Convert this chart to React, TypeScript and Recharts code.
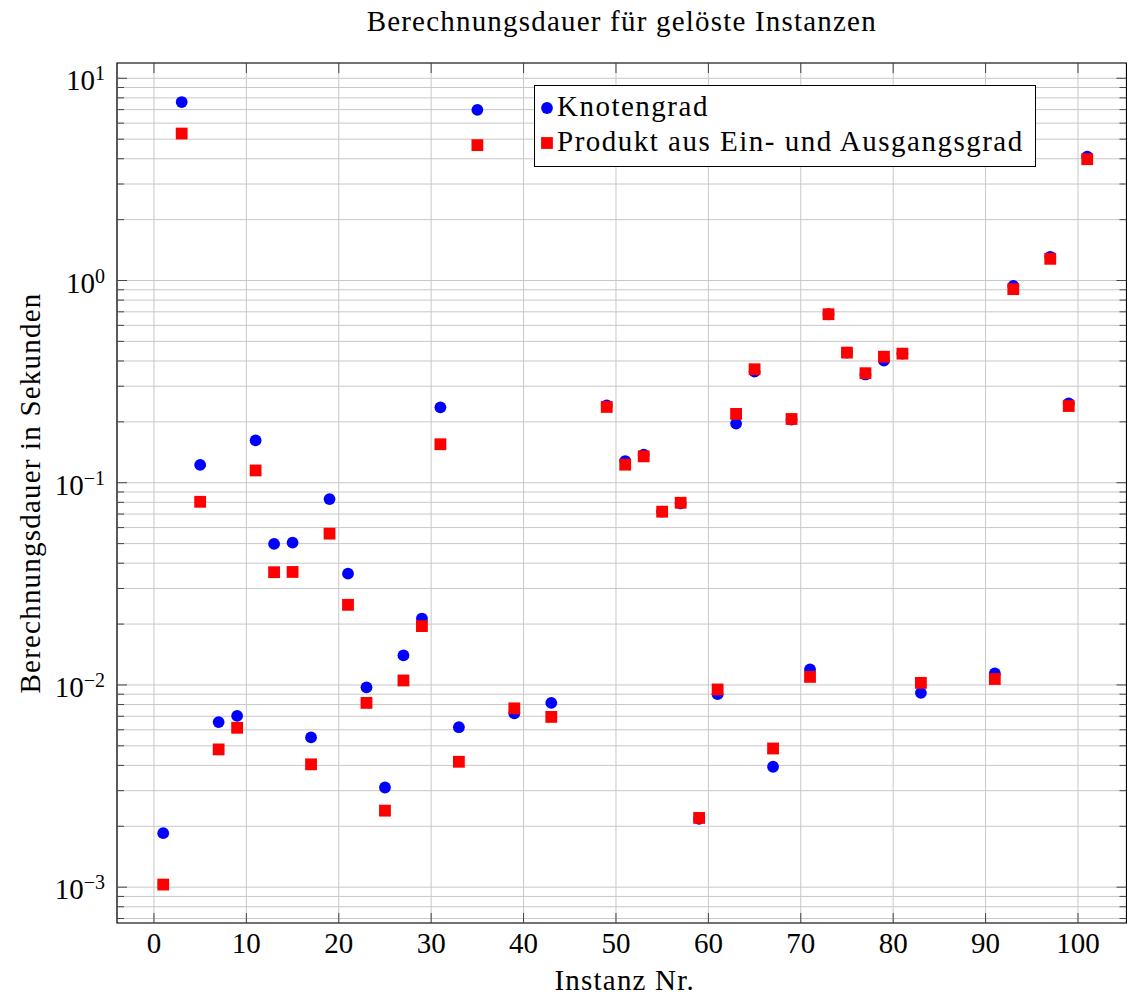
import { ScatterChart, Scatter, XAxis, YAxis, CartesianGrid, Legend, ReferenceArea } from 'recharts';

const INSTANZEN = [
  1, 3, 5, 7, 9, 11, 13, 15, 17, 19, 21, 23, 25, 27, 29, 31, 33, 35, 39, 43,
  49, 51, 53, 55, 57, 59, 61, 63, 65, 67, 69, 71, 73, 75, 77, 79, 81, 83, 91, 93,
  97, 99, 101
];

const KNOTENGRAD = [
  0.00185, 7.63, 0.1225, 0.00655, 0.00703, 0.162, 0.0498, 0.0506, 0.0055, 0.083,
  0.0355, 0.00973, 0.00311, 0.014, 0.0213, 0.236, 0.00618, 6.98, 0.00723, 0.00815,
  0.241, 0.128, 0.1376, 0.0719, 0.079, 0.00218, 0.009, 0.196, 0.354, 0.00394,
  0.205, 0.01194, 0.681, 0.44, 0.343, 0.402, 0.435, 0.00914, 0.0114, 0.94,
  1.31, 0.2467, 4.1
];

const PRODUKT = [
  0.00103, 5.33, 0.0805, 0.0048, 0.00614, 0.115, 0.0361, 0.0362, 0.00405, 0.056,
  0.0249, 0.00815, 0.00239, 0.01052, 0.01954, 0.155, 0.00417, 4.67, 0.00766, 0.00695,
  0.237, 0.1228, 0.135, 0.0719, 0.0796, 0.0022, 0.0095, 0.219, 0.364, 0.00485,
  0.2066, 0.01096, 0.681, 0.44, 0.348, 0.42, 0.4348, 0.01024, 0.0107, 0.906,
  1.28, 0.2395, 3.98
];

const X_TICKS = [0, 10, 20, 30, 40, 50, 60, 70, 80, 90, 100];
const Y_MAJOR = [0.001, 0.01, 0.1, 1, 10];
const Y_EXPONENTS = ['−3', '−2', '−1', '0', '1'];
const Y_MINOR = [
  0.0007, 0.0008, 0.0009,
  0.002, 0.003, 0.004, 0.005, 0.006, 0.007, 0.008, 0.009,
  0.02, 0.03, 0.04, 0.05, 0.06, 0.07, 0.08, 0.09,
  0.2, 0.3, 0.4, 0.5, 0.6, 0.7, 0.8, 0.9,
  2, 3, 4, 5, 6, 7, 8, 9
];
const Y_TICKS = [...Y_MAJOR, ...Y_MINOR].sort((a, b) => a - b);

const X_DOMAIN = [-4, 105.25];
const Y_DOMAIN = [0.000665, 11.9];

const FONT = '"Liberation Serif", "Times New Roman", serif';
const FS = 29;
const LS = 1.2;
const PLOT_W = 1009.5;
const PLOT_H = 860;
const TICK_COLOR = '#444';
const GRID_COLOR = '#c8c8c8';

const knotenData = INSTANZEN.map((x, i) => ({ x, y: KNOTENGRAD[i] }));
const produktData = INSTANZEN.map((x, i) => ({ x, y: PRODUKT[i] }));

const BlueDot = (props: any) => (
  <circle cx={props.cx} cy={props.cy} r={5.9} fill="#0000ff" />
);

const RedSquare = (props: any) => (
  <rect x={props.cx - 5.9} y={props.cy - 5.9} width={11.8} height={11.8} fill="#ff0000" />
);

const XTick = ({ x, y, payload }: any) => (
  <g>
    <line x1={x} y1={y} x2={x} y2={y - 10} stroke={TICK_COLOR} />
    <line x1={x} y1={y - PLOT_H} x2={x} y2={y - PLOT_H + 10} stroke={TICK_COLOR} />
    <text x={x} y={y + 30} textAnchor="middle" fontFamily={FONT} fontSize={FS} fill="#000">
      {payload.value}
    </text>
  </g>
);

const YTick = ({ x, y, payload }: any) => {
  const idx = Y_MAJOR.indexOf(payload.value);
  const len = idx >= 0 ? 10 : 7;
  return (
    <g>
      <line x1={x} y1={y} x2={x + len} y2={y} stroke={TICK_COLOR} />
      <line x1={x + PLOT_W} y1={y} x2={x + PLOT_W - len} y2={y} stroke={TICK_COLOR} />
      {idx >= 0 && (
        <text x={x - 12} y={y + 12} textAnchor="end" fontFamily={FONT} fontSize={FS} fill="#000">
          10
          <tspan dy={-10} fontSize={20}>{Y_EXPONENTS[idx]}</tspan>
        </text>
      )}
    </g>
  );
};

const LegendBox = ({ payload }: any) => (
  <div
    style={{
      boxSizing: 'border-box',
      width: 502,
      height: 82,
      border: '1.2px solid #000',
      background: '#fff',
      paddingTop: 3,
      paddingLeft: 6,
      fontFamily: FONT,
      fontSize: FS,
      letterSpacing: 1.5,
      color: '#000'
    }}
  >
    {(payload || []).map((entry: any) => (
      <div key={entry.value} style={{ display: 'flex', alignItems: 'center', height: 35, lineHeight: '35px' }}>
        <svg width={12} height={12} style={{ marginTop: 3, marginRight: 4, flex: 'none' }}>
          {entry.type === 'circle' ? (
            <circle cx={6} cy={6} r={5.9} fill={entry.color} />
          ) : (
            <rect x={0.1} y={0.1} width={11.8} height={11.8} fill={entry.color} />
          )}
        </svg>
        <span>{entry.value}</span>
      </div>
    ))}
  </div>
);

export default function App() {
  return (
    <div style={{ position: 'absolute', left: 0, top: 0, width: 1127, height: 997, background: '#fff' }}>
      <div
        style={{
          position: 'absolute',
          left: 117,
          top: 5,
          width: PLOT_W,
          textAlign: 'center',
          fontFamily: FONT,
          fontSize: FS,
          letterSpacing: LS,
          lineHeight: '33px'
        }}
      >
        Berechnungsdauer für gelöste Instanzen
      </div>
      <ScatterChart width={1127} height={997} margin={{ top: 63, right: 0.5, bottom: 0, left: 0 }}>
        <CartesianGrid stroke={GRID_COLOR} />
        <XAxis
          type="number"
          dataKey="x"
          domain={X_DOMAIN}
          ticks={X_TICKS}
          interval={0}
          allowDataOverflow
          height={74}
          tickSize={0}
          tickMargin={0}
          tickLine={false}
          axisLine={false}
          tick={<XTick />}
          label={{
            content: ({ viewBox }: any) => (
              <text
                x={viewBox.x + viewBox.width / 2 + 3}
                y={viewBox.y + viewBox.height - 7}
                textAnchor="middle"
                fontFamily={FONT}
                fontSize={FS}
                letterSpacing={LS}
                fill="#000"
              >
                Instanz Nr.
              </text>
            )
          }}
        />
        <YAxis
          type="number"
          dataKey="y"
          scale="log"
          domain={Y_DOMAIN}
          ticks={Y_TICKS}
          interval={0}
          allowDataOverflow
          width={117}
          tickSize={0}
          tickMargin={0}
          tickLine={false}
          axisLine={false}
          tick={<YTick />}
          label={{
            content: ({ viewBox }: any) => {
              const cx = viewBox.x + 30;
              const cy = viewBox.y + viewBox.height / 2;
              return (
                <text
                  x={cx}
                  y={cy}
                  transform={`rotate(-90, ${cx}, ${cy})`}
                  textAnchor="middle"
                  dominantBaseline="central"
                  fontFamily={FONT}
                  fontSize={FS}
                  letterSpacing={LS}
                  fill="#000"
                >
                  Berechnungsdauer in Sekunden
                </text>
              );
            }
          }}
        />
        <ReferenceArea
          x1={X_DOMAIN[0]}
          x2={X_DOMAIN[1]}
          y1={Y_DOMAIN[0]}
          y2={Y_DOMAIN[1]}
          fill="none"
          stroke="#000"
          strokeWidth={1.2}
          ifOverflow="visible"
        />
        <Scatter
          name="Knotengrad"
          data={knotenData}
          fill="#0000ff"
          legendType="circle"
          shape={BlueDot}
          isAnimationActive={false}
        />
        <Scatter
          name="Produkt aus Ein- und Ausgangsgrad"
          data={produktData}
          fill="#ff0000"
          legendType="square"
          shape={RedSquare}
          isAnimationActive={false}
        />
        <Legend
          layout="vertical"
          align="center"
          verticalAlign="middle"
          content={<LegendBox />}
          wrapperStyle={{ left: 534, top: 85, width: 502, height: 82 }}
        />
      </ScatterChart>
    </div>
  );
}
